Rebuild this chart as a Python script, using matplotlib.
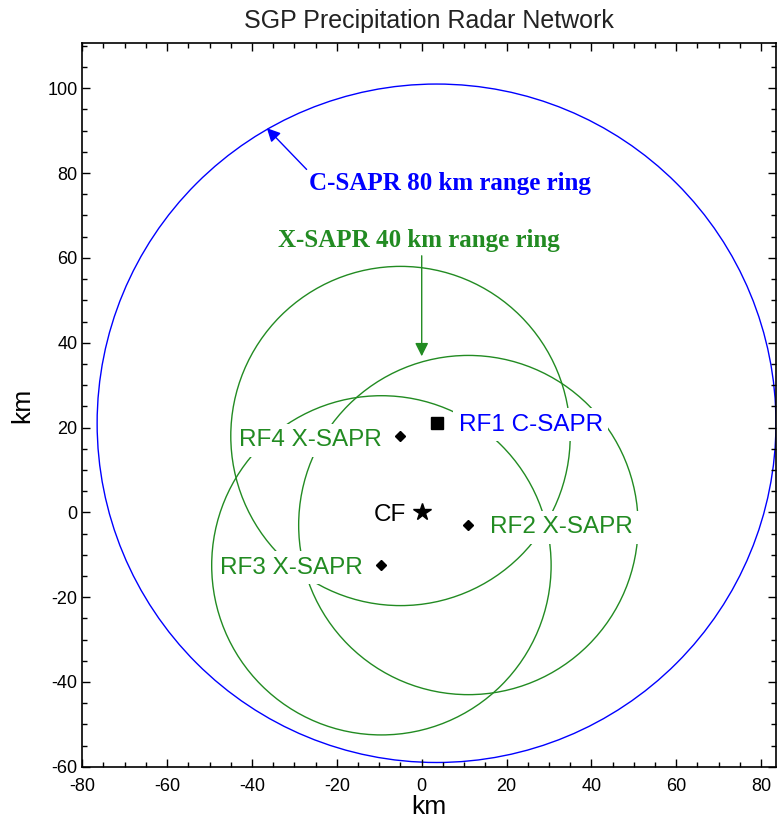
import numpy as np
import matplotlib
matplotlib.use('Agg')
import matplotlib.pyplot as plt
from matplotlib.patches import Circle
from matplotlib.ticker import MultipleLocator

# radar sites (km from CF)
site_names = ['RF1 C-SAPR', 'RF2 X-SAPR', 'RF3 X-SAPR', 'RF4 X-SAPR']
site_x = [3.5, 11.0, -9.5, -5.0]
site_y = [21.0, -3.0, -12.5, 18.0]
site_ring = [80, 40, 40, 40]
cf_x, cf_y = 0.0, 0.0

blue = '#0000ff'
green = '#228b22'

plt.rcParams['font.family'] = ['Liberation Sans', 'DejaVu Sans']
plt.rcParams['axes.unicode_minus'] = False

fig = plt.figure(figsize=(7.77, 8.24), dpi=100)
ax = fig.add_axes([0.1059, 0.0695, 0.8928, 0.8779])

# range rings
for x, y, r in zip(site_x, site_y, site_ring):
    col = blue if r == 80 else green
    ax.add_patch(Circle((x, y), r, fill=False, ec=col, lw=1.0, zorder=1))

# markers
ax.plot(site_x[0], site_y[0], 's', color='k', ms=8, zorder=3)
ax.plot(site_x[1:], site_y[1:], 'D', color='k', ms=5.5, zorder=3)
ax.plot(cf_x, cf_y, '*', color='k', ms=13, zorder=3)

box = dict(fc='white', ec='none', pad=4)
fs = 17.5
ax.text(site_x[0] + 5.2, site_y[0] - 0.3, site_names[0], color=blue, fontsize=fs,
        ha='left', va='center', bbox=box, zorder=2)
ax.text(site_x[1] + 5.2, site_y[1] - 0.5, site_names[1], color=green, fontsize=fs,
        ha='left', va='center', bbox=box, zorder=2)
ax.text(site_x[2] - 4.3, site_y[2] - 0.6, site_names[2], color=green, fontsize=fs,
        ha='right', va='center', bbox=box, zorder=2)
ax.text(site_x[3] - 4.5, site_y[3] - 1.0, site_names[3], color=green, fontsize=fs,
        ha='right', va='center', bbox=box, zorder=2)
ax.text(cf_x - 3.6, cf_y - 0.6, 'CF', color='k', fontsize=fs,
        ha='right', va='center', bbox=box, zorder=2)

# ring annotations
ax.annotate('C-SAPR 80 km range ring', xy=(-36.5, 90.6), xytext=(-26.5, 77.5),
            color=blue, fontsize=18, fontweight='bold', family='Liberation Serif',
            ha='left', va='center',
            arrowprops=dict(arrowstyle='-|>', color=blue, lw=1, mutation_scale=20,
                            shrinkA=0, shrinkB=0, relpos=(0.0, 1.0)))
ax.text(-0.7, 64.0, 'X-SAPR 40 km range ring', color=green, fontsize=18,
        fontweight='bold', family='Liberation Serif', ha='center', va='center')
ax.annotate('', xy=(0, 36.8), xytext=(0, 60.5),
            arrowprops=dict(arrowstyle='-|>', color=green, lw=1, mutation_scale=20,
                            shrinkA=0, shrinkB=0))

ax.set_xlim(-80, 83.5)
ax.set_ylim(-60, 110.6)
ax.xaxis.set_major_locator(MultipleLocator(20))
ax.xaxis.set_minor_locator(MultipleLocator(5))
ax.yaxis.set_major_locator(MultipleLocator(20))
ax.yaxis.set_minor_locator(MultipleLocator(5))
ax.tick_params(which='both', direction='in', top=True, right=True, width=1,
               labelsize=13)
ax.tick_params(which='major', length=6)
ax.tick_params(which='minor', length=3.5)
ax.tick_params(axis='x', which='major', pad=8)
for lab in ax.get_xticklabels() + ax.get_yticklabels():
    lab.set_family(['Liberation Sans Narrow', 'Liberation Sans'])
for s in ax.spines.values():
    s.set_linewidth(1.2)

ax.set_xlabel('km', fontsize=19, labelpad=0)
ax.set_ylabel('km', fontsize=19, labelpad=9)
ax.set_title('SGP Precipitation Radar Network', fontsize=18, color='#222222', pad=11)

fig.savefig('out.png', dpi=100)
